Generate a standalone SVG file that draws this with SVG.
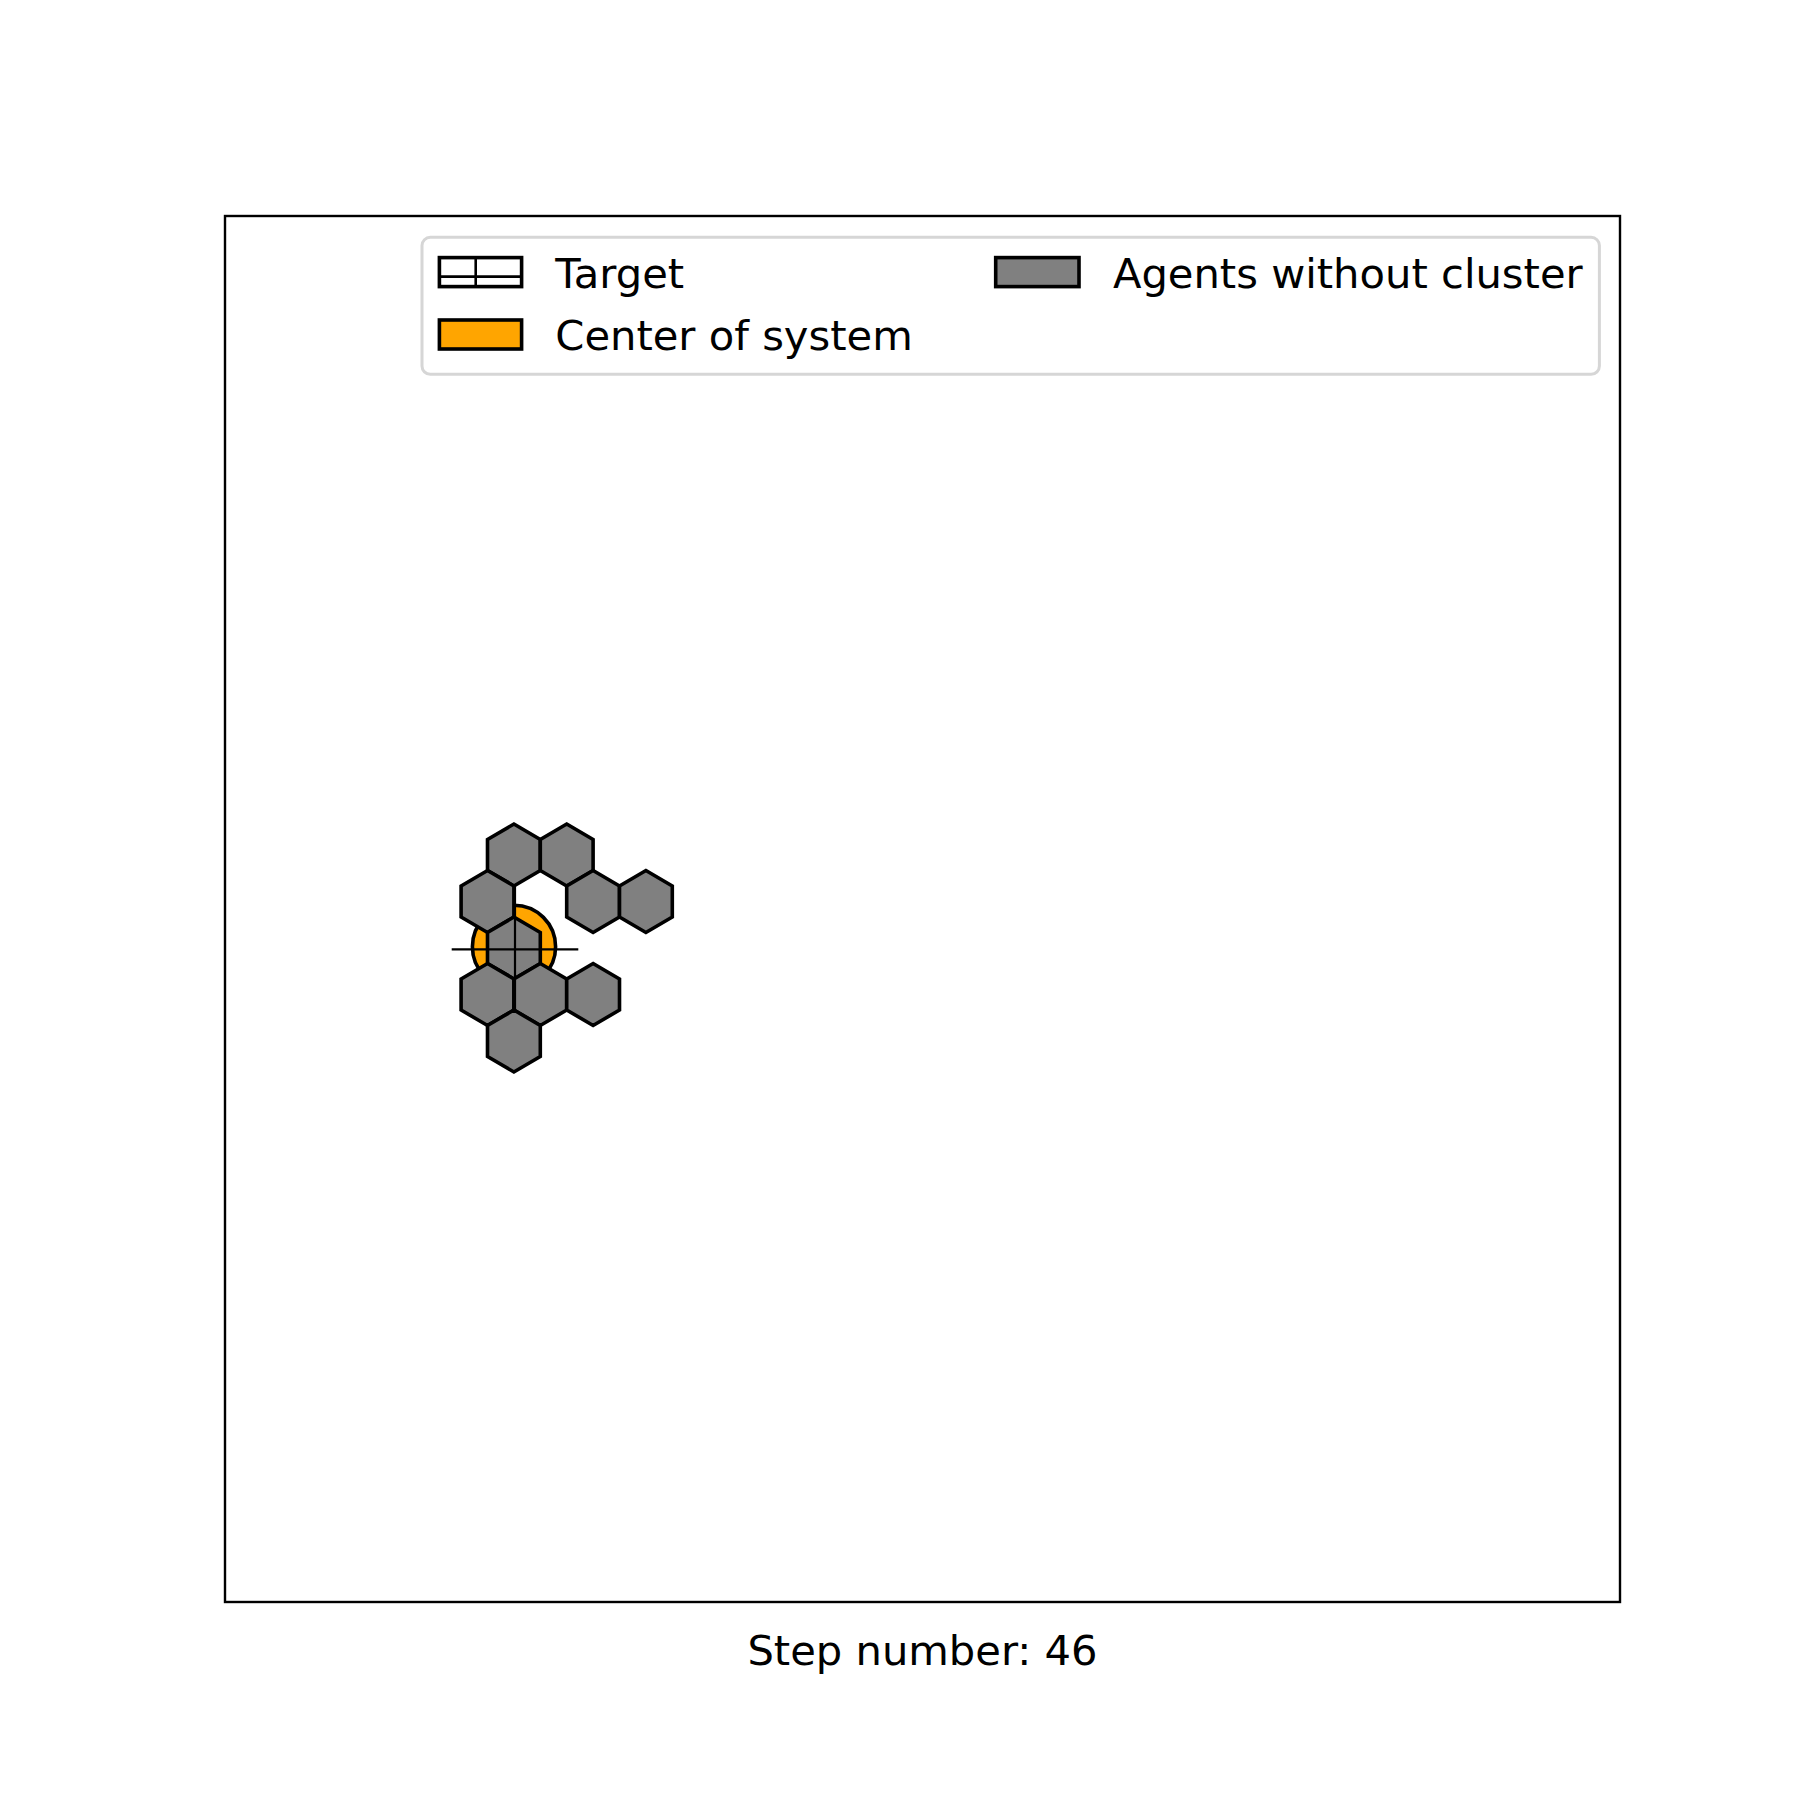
<svg xmlns="http://www.w3.org/2000/svg" xmlns:xlink="http://www.w3.org/1999/xlink" width="1800" height="1800" viewBox="0 0 1800 1800">
  <style>
    .txt { font-family: "DejaVu Sans", "Liberation Sans", sans-serif; font-size: 41.67px; fill: #000; }
    .hex { fill: #808080; stroke: #000; stroke-width: 3.6; stroke-linejoin: miter; }
    .patch { stroke: #000; stroke-width: 3.6; }
    .thin { stroke: #000; stroke-width: 2.2; fill: none; }
  </style>
  <defs>
    <path id="hexshape" d="M0,-31 L26.4,-15.5 L26.4,15.5 L0,31 L-26.4,15.5 L-26.4,-15.5 Z"/>
  </defs>
  <rect x="0" y="0" width="1800" height="1800" fill="#ffffff"/>

  <!-- axes frame -->
  <rect id="axes" x="225" y="216" width="1395" height="1386" fill="#ffffff" stroke="#000" stroke-width="2.4"/>

  <!-- center of system -->
  <g id="center">
    <circle cx="514" cy="946.8" r="41.6" fill="#FFA500" stroke="#000" stroke-width="3.6"/>
  </g>

  <!-- agents -->
  <g id="agents">
    <g id="agent1"><use xlink:href="#hexshape" class="hex" transform="translate(513.9,855)"/></g>
    <g id="agent2"><use xlink:href="#hexshape" class="hex" transform="translate(566.7,855)"/></g>
    <g id="agent3"><use xlink:href="#hexshape" class="hex" transform="translate(487.5,901.5)"/></g>
    <g id="agent4"><use xlink:href="#hexshape" class="hex" transform="translate(593.1,901.5)"/></g>
    <g id="agent5"><use xlink:href="#hexshape" class="hex" transform="translate(645.9,901.5)"/></g>
    <g id="agent6"><use xlink:href="#hexshape" class="hex" transform="translate(513.9,948)"/></g>
    <g id="agent7"><use xlink:href="#hexshape" class="hex" transform="translate(487.5,994.5)"/></g>
    <g id="agent8"><use xlink:href="#hexshape" class="hex" transform="translate(540.3,994.5)"/></g>
    <g id="agent9"><use xlink:href="#hexshape" class="hex" transform="translate(593.1,994.5)"/></g>
    <g id="agent10"><use xlink:href="#hexshape" class="hex" transform="translate(513.9,1041)"/></g>
  </g>

  <!-- target crosshair -->
  <g id="target">
    <line class="thin" x1="451.7" y1="949.3" x2="578.3" y2="949.3"/>
    <line class="thin" x1="515" y1="886" x2="515" y2="1012.6"/>
  </g>

  <g id="connectors"></g>

  <!-- legend -->
  <g id="legend">
    <rect x="422" y="237.3" width="1177.4" height="137" rx="8.3" ry="8.3" fill="#ffffff" stroke="#d6d6d6" stroke-width="3"/>
    <g id="legend-target">
      <rect class="patch" x="439.4" y="257.6" width="82.2" height="29" fill="#ffffff"/>
      <line x1="439.4" y1="276.6" x2="521.6" y2="276.6" stroke="#000" stroke-width="2.6"/>
      <line x1="475.7" y1="257.6" x2="475.7" y2="286.6" stroke="#000" stroke-width="2.6"/>
      <text class="txt" x="555.3" y="287.5">Target</text>
    </g>
    <g id="legend-center">
      <rect class="patch" x="439.4" y="320" width="82.2" height="29" fill="#FFA500"/>
      <text class="txt" x="555.3" y="349.8">Center of system</text>
    </g>
    <g id="legend-agents">
      <rect class="patch" x="995.7" y="257.6" width="83.3" height="29" fill="#808080"/>
      <text class="txt" x="1112.9" y="287.5">Agents without cluster</text>
    </g>
  </g>

  <text id="xlabel" class="txt" x="922.5" y="1664.5" text-anchor="middle">Step number: 46</text>
</svg>
